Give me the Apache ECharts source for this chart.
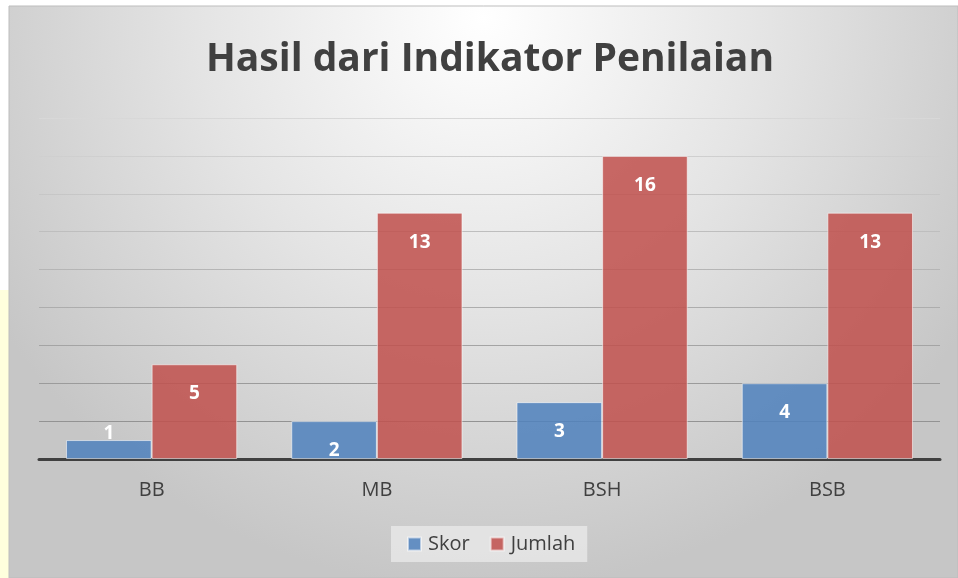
<!DOCTYPE html>
<html>
<head>
<meta charset="utf-8">
<script src="https://cdn.jsdelivr.net/npm/echarts@6/dist/echarts.min.js"></script>
<style>
html,body{margin:0;padding:0;background:#fff;}
#c{width:958px;height:578px;}
</style>
</head>
<body>
<div id="c"></div>
<script>
const categories = ['BB', 'MB', 'BSH', 'BSB'];
const skor = [1, 2, 3, 4];
const jumlah = [5, 13, 16, 13];
const seriesNames = ['Skor', 'Jumlah'];
const titleText = 'Hasil dari Indikator Penilaian';

const chart = echarts.init(document.getElementById('c'), null, {renderer: 'canvas'});
const font = '"Open Sans", "Noto Sans", sans-serif';

const skorData = skor.map(function (v) {
  if (v < 2) {
    return {value: v, label: {position: 'top', distance: -3}};
  }
  return v;
});

chart.setOption({
  animation: false,
  graphic: [
    {type: 'rect', z: -10, silent: true, shape: {x: 0, y: 290, width: 9, height: 288}, style: {fill: '#FFFFDD'}},
    {type: 'rect', z: -10, silent: true, shape: {x: 9, y: 6, width: 949, height: 572},
      style: {
        fill: new echarts.graphic.RadialGradient(0.5, 0.02, 1.0, [
          {offset: 0, color: '#FFFFFF'},
          {offset: 0.5, color: '#E4E4E4'},
          {offset: 1, color: '#C6C6C6'}
        ]),
        stroke: '#BDBDBD', lineWidth: 1
      }
    }
  ],
  title: {
    text: titleText,
    left: 485, top: 35, textAlign: 'center',
    textStyle: {fontFamily: font, fontWeight: 'bold', fontSize: 39, color: '#404040'}
  },
  legend: {
    data: seriesNames,
    left: 391, top: 526,
    itemWidth: 13, itemHeight: 13, itemGap: 20,
    backgroundColor: 'rgba(232,232,232,0.8)',
    padding: [8, 12, 8, 16],
    textStyle: {fontFamily: font, fontSize: 20, color: '#404040', padding: [0, 0, 0, 2]},
    icon: 'rect'
  },
  grid: {left: 39, right: 18, top: 118, bottom: 119},
  xAxis: {
    type: 'category',
    data: categories,
    axisTick: {show: false},
    axisLine: {lineStyle: {color: '#404040', width: 3}},
    axisLabel: {fontFamily: font, fontSize: 20, color: '#404040', margin: 21},
    splitLine: {show: false}
  },
  yAxis: {
    type: 'value', min: 0, max: 18, interval: 2,
    axisLabel: {show: false},
    axisLine: {show: false},
    axisTick: {show: false},
    splitLine: {
      lineStyle: {
        width: 1.2,
        color: new echarts.graphic.LinearGradient(0, 118, 0, 459, [
          {offset: 0, color: '#D8D8D8'},
          {offset: 1, color: '#8A8A8A'}
        ], true)
      }
    }
  },
  series: [
    {
      name: seriesNames[0], type: 'bar', data: skorData,
      barGap: '0%', barCategoryGap: '24%',
      itemStyle: {color: 'rgba(79,129,189,0.86)', borderColor: 'rgba(255,255,255,0.55)', borderWidth: 1},
      label: {show: true, position: 'insideTop', distance: 20, color: '#FFFFFF',
        fontFamily: font, fontWeight: 'bold', fontSize: 19}
    },
    {
      name: seriesNames[1], type: 'bar', data: jumlah,
      barGap: '0%', barCategoryGap: '24%',
      itemStyle: {color: 'rgba(192,80,77,0.86)', borderColor: 'rgba(255,255,255,0.55)', borderWidth: 1},
      label: {show: true, position: 'insideTop', distance: 20, color: '#FFFFFF',
        fontFamily: font, fontWeight: 'bold', fontSize: 19}
    }
  ]
});
</script>
</body>
</html>
